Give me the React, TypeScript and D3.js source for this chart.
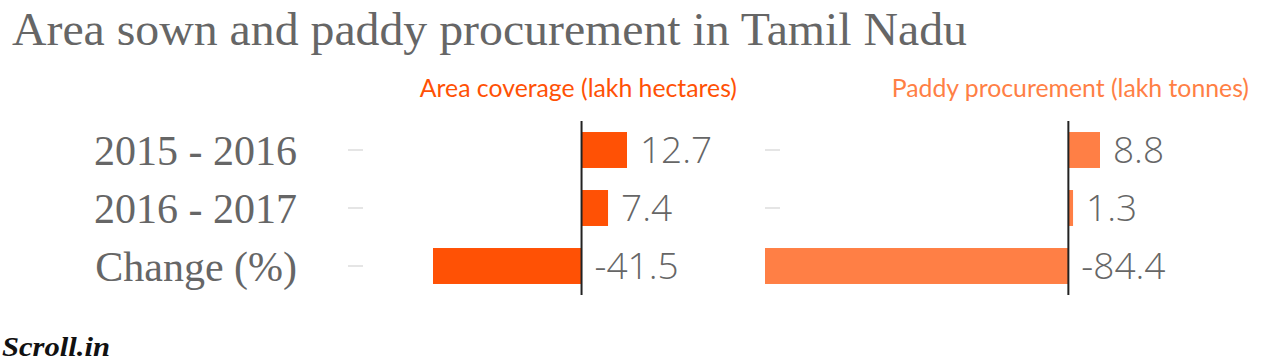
import React from 'react';
import * as d3 from 'd3';

const categories = ['2015 - 2016', '2016 - 2017', 'Change (%)'];
const areaValues = [12.7, 7.4, -41.5];
const paddyValues = [8.8, 1.3, -84.4];
const areaLabels = ['12.7', '7.4', '-41.5'];
const paddyLabels = ['8.8', '1.3', '-84.4'];

const W = 1280, H = 362;

const y = d3.scaleBand<string>().domain(categories).range([121, 295]).paddingInner(0.38).paddingOuter(0.19);

const panels = [
  { title: 'Area coverage (lakh hectares)', values: areaValues, labels: areaLabels, color: '#ff5105', titleRight: 737,
    tickX: 348, x: d3.scaleLinear().domain([d3.min(areaValues)!, d3.max(areaValues)!]).range([433, 627]) },
  { title: 'Paddy procurement (lakh tonnes)', values: paddyValues, labels: paddyLabels, color: '#ff7f45', titleRight: 1249,
    tickX: 765, x: d3.scaleLinear().domain([d3.min(paddyValues)!, d3.max(paddyValues)!]).range([765, 1100]) },
];

const App = () => {
  return (
    <svg width={W} height={H} style={{ position: 'absolute', left: 0, top: 0, background: '#fff' }}>
      <text x={12} y={45} fontFamily="Liberation Serif" fontSize={46} fill="#666" textLength={955} lengthAdjust="spacingAndGlyphs">
        Area sown and paddy procurement in Tamil Nadu
      </text>

      {categories.map((c) => (
        <text key={c} x={297} y={y(c)! + y.bandwidth() / 2} dy="0.35em" textAnchor="end"
          fontFamily="Liberation Serif" fontSize={42} fill="#666">{c}</text>
      ))}

      {panels.map((p, pi) => (
        <g key={pi}>
          <text x={p.titleRight} y={97} textAnchor="end" fontFamily="Lato" fontSize={24.8} fill={p.color}>{p.title}</text>
          {categories.map((c, i) => {
            const v = p.values[i];
            const x0 = p.x(0);
            const xv = p.x(v);
            const cy = y(c)! + y.bandwidth() / 2;
            return (
              <g key={c}>
                <line x1={p.tickX} x2={p.tickX + 15} y1={cy} y2={cy} stroke="#ddd" strokeWidth={1.5} />
                <rect x={Math.min(x0, xv)} y={y(c)!} width={Math.abs(xv - x0)} height={y.bandwidth()} fill={p.color} />
                <text x={(v >= 0 ? xv : x0) + 13} y={cy} dy="0.36em" fontFamily="Open Sans" fontWeight={300}
                  fontSize={37} fill="#666">{p.labels[i]}</text>
              </g>
            );
          })}
          <line x1={p.x(0)} x2={p.x(0)} y1={121} y2={295} stroke="#222" strokeWidth={2} />
        </g>
      ))}

      <text x={2} y={356} fontFamily="Liberation Serif" fontStyle="italic" fontWeight="bold" fontSize={27} fill="#111"
        textLength={108} lengthAdjust="spacingAndGlyphs">
        Scroll.in
      </text>
    </svg>
  );
};

export default App;
